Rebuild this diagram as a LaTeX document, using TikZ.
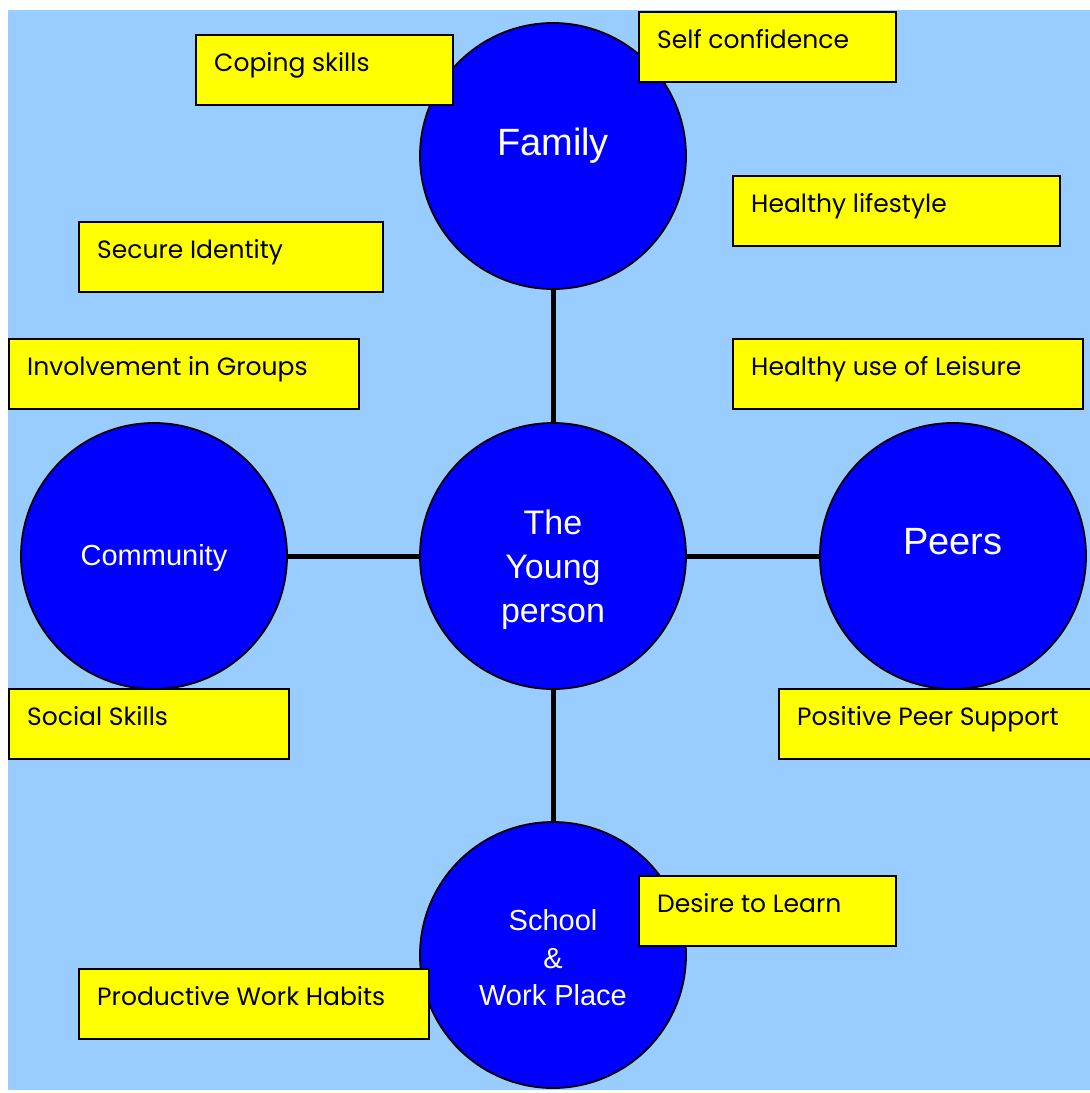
\documentclass[tikz,border=0pt]{standalone}
\usepackage{fontspec}
\setmainfont{Liberation Sans}
\newfontfamily\gothicfont{Poppins}
\definecolor{bgblue}{RGB}{153,204,255}
\definecolor{hubblue}{RGB}{0,0,255}
\definecolor{boxyellow}{RGB}{255,255,0}
\begin{document}
\begin{tikzpicture}[x=1pt,y=-1pt,
  hub/.style={circle,draw=black,line width=1.8pt,fill=hubblue,minimum size=266pt,inner sep=0pt,text=white,align=center},
  hublabel/.style={text=white,align=center},
  box/.style={rectangle,draw=black,line width=2pt,fill=boxyellow,minimum height=70pt,anchor=north west,inner sep=0pt},
  lbl/.style={anchor=base west,inner sep=0pt,xshift=19pt,yshift=-37pt,font=\gothicfont\fontsize{25}{30}\selectfont,text=black},
  conn/.style={line width=5pt,black}]
\clip (0,0) rectangle (1090,1093);
\fill[bgblue] (8,10) rectangle (1090,1090);
% hubs
\node[hub,label={[hublabel,font=\fontsize{38}{44}\selectfont,yshift=10pt]center:Family}] (family) at (553,156) {};
\node[hub,label={[hublabel,font=\fontsize{34}{44}\selectfont,yshift=-14pt]center:The\\Young\\person}] (young) at (553,556) {};
\node[hub,label={[hublabel,font=\fontsize{29}{34}\selectfont,yshift=-2pt]center:Community}] (community) at (154,556) {};
\node[hub,label={[hublabel,font=\fontsize{29}{37.5}\selectfont,yshift=-3pt]center:School\\\&\\Work Place}] (school) at (553,955) {};
\node[hub,label={[hublabel,font=\fontsize{38}{44}\selectfont,yshift=14pt]center:Peers}] (peers) at (953,556) {};
% connectors
\draw[conn] (family) -- (young);
\draw[conn] (community) -- (young);
\draw[conn] (young) -- (peers);
\draw[conn] (young) -- (school);
% boxes
\node[box,minimum width=257pt,label={[lbl]north west:Coping skills}] (coping) at (195,34) {};
\node[box,minimum width=257pt,label={[lbl]north west:Self confidence}] (selfconf) at (638,11) {};
\node[box,minimum width=327pt,label={[lbl]north west:Healthy lifestyle}] (healthy) at (732,175) {};
\node[box,minimum width=304pt,label={[lbl]north west:Secure Identity}] (secure) at (78,221) {};
\node[box,minimum width=350pt,label={[lbl]north west:Involvement in Groups}] (involve) at (8,338) {};
\node[box,minimum width=350pt,label={[lbl]north west:Healthy use of Leisure}] (leisure) at (732,338) {};
\node[box,minimum width=280pt,label={[lbl]north west:Social Skills}] (social) at (8,688) {};
\node[box,minimum width=330pt,label={[lbl]north west:Positive Peer Support}] (peer) at (778,688) {};
\node[box,minimum width=257pt,label={[lbl]north west:Desire to Learn}] (desire) at (638,875) {};
\node[box,minimum width=350pt,label={[lbl]north west:Productive Work Habits}] (productive) at (78,968) {};
\end{tikzpicture}
\end{document}
